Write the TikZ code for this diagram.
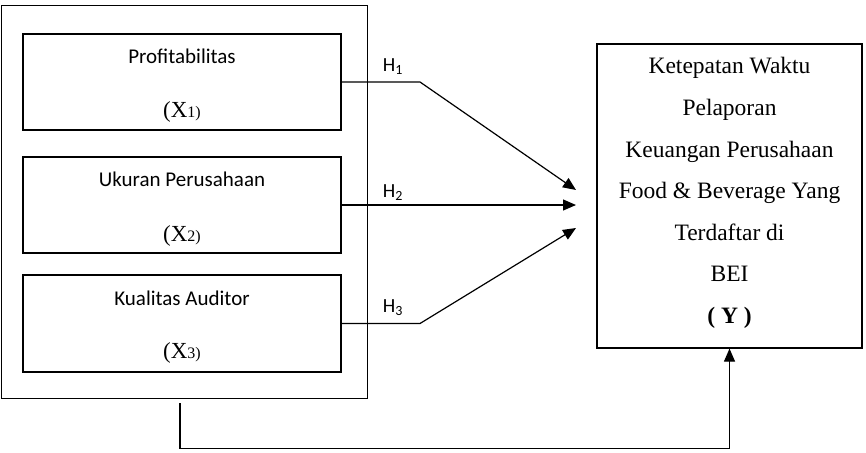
\documentclass[tikz,border=0pt]{standalone}
\usepackage{fontspec}
\setmainfont{Liberation Serif}
\newfontfamily\labelfont{Carlito}
\usetikzlibrary{arrows.meta,calc}
\tikzset{
  box/.style={draw=black, line width=1.2pt, inner sep=0pt, fill=none},
  conn/.style={draw=black, line width=1.2pt},
  arr/.style={conn, -{Triangle[length=13pt,width=11pt]}},
  lbl/.style={font=\labelfont\fontsize{21}{21}\selectfont, inner sep=0pt},
  xlbl/.style={inner sep=0pt},
  hlbl/.style={font=\labelfont\fontsize{20}{20}\selectfont, inner sep=0pt},
  ylbl/.style={align=center, inner sep=0pt, font=\fontsize{23.5}{41.6}\selectfont}
}
\newcommand{\xvar}[1]{{\fontsize{23}{23}\selectfont(X}{\fontsize{16}{16}\selectfont #1)}}
\begin{document}
\begin{tikzpicture}[x=1pt,y=-1pt]
\useasboundingbox (0,0) rectangle (866,452);
% outer group box
\node[box, line width=1pt, minimum width=366pt, minimum height=392pt] (L) at (184,202) {};
% independent variable boxes
\node[box, minimum width=318pt, minimum height=96pt] (b1) at (182,82) {};
\node[box, minimum width=318pt, minimum height=96pt] (b2) at (182,205) {};
\node[box, minimum width=318pt, minimum height=97pt] (b3) at (182,323.5) {};
\node[lbl] (t1) at ([yshift=26pt]b1.center) {Profitabilitas};
\node[xlbl] (x1) at ([yshift=-30pt]b1.center) {\xvar{1}};
\node[lbl] (t2) at ([yshift=26pt]b2.center) {Ukuran Perusahaan};
\node[xlbl] (x2) at ([yshift=-31pt]b2.center) {\xvar{2}};
\node[lbl] (t3) at ([yshift=25.5pt]b3.center) {Kualitas Auditor};
\node[xlbl] (x3) at ([yshift=-29.5pt]b3.center) {\xvar{3}};
% dependent variable box
\node[box, minimum width=265pt, minimum height=304pt] (Y) at (729.5,196) {};
\node[ylbl] (yt) at (729.5,193) {Ketepatan Waktu\\Pelaporan\\Keuangan Perusahaan\\Food \& Beverage Yang\\Terdaftar di\\BEI\\\textbf{( Y )}};
% connector points
\coordinate (k1) at (420,82);
\coordinate (k3) at (420,323.5);
\coordinate (e1) at (576,190);
\coordinate (e2) at (576,205);
\coordinate (e3) at (576,228);
\coordinate (s) at (180,403);
% connectors
\draw[arr] (b1.east) -- (k1) -- (e1);
\draw[arr] (b2.east) -- (e2);
\draw[arr] (b3.east) -- (k3) -- (e3);
\draw[arr] (s) |- ([yshift=-100pt]Y.south) -- (Y.south);
% hypothesis labels
\node[hlbl] (h1) at (393,67) {H\textsubscript{1}};
\node[hlbl] (h2) at (393,193) {H\textsubscript{2}};
\node[hlbl] (h3) at (393,308) {H\textsubscript{3}};
\end{tikzpicture}
\end{document}
